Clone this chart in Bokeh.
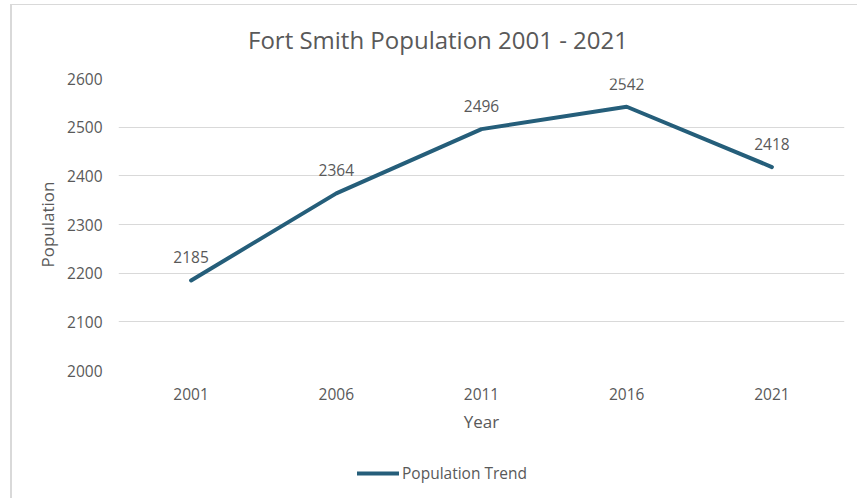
from bokeh.plotting import figure
from bokeh.models import ColumnDataSource, LabelSet, Legend, LegendItem, Range1d, Label
from bokeh.layouts import column
from bokeh.core.properties import value
from bokeh.embed import file_html
from bokeh.resources import INLINE

years = ["2001", "2006", "2011", "2016", "2021"]
population = [2185, 2364, 2496, 2542, 2418]
y_ticks = [2000, 2100, 2200, 2300, 2400, 2500, 2600]
series_name = "Population Trend"
chart_title = "Fort Smith Population 2001 - 2021"

TEXT = "#595959"
LINE = "#255E7A"
FONT = "Open Sans"
W = 845


def strip(h, xr, yr):
    f = figure(width=W, height=h, output_backend="svg", toolbar_location=None,
               x_range=xr, y_range=yr,
               min_border_left=0, min_border_right=0, min_border_top=0, min_border_bottom=0)
    f.axis.visible = False
    f.grid.visible = False
    f.outline_line_color = None
    f.background_fill_color = "white"
    f.border_fill_color = "white"
    return f


src = ColumnDataSource(dict(x=years, y=population, lbl=[str(v) for v in population]))

# title strip (frame aligned with the chart frame; ranges in pixels)
pt = strip(60, Range1d(0, 726), Range1d(0, 60))
pt.add_layout(Label(x=319.5, y=26, text=chart_title, text_align="center", text_baseline="middle",
                    text_font=FONT, text_font_size="24px", text_color=TEXT))

p = figure(
    x_range=years, y_range=Range1d(2000, 2600),
    width=W, height=385, output_backend="svg", toolbar_location=None,
    min_border_left=106, min_border_right=13, min_border_top=13, min_border_bottom=80,
)
p.outline_line_color = None
p.background_fill_color = "white"
p.border_fill_color = "white"

p.xgrid.grid_line_color = None
p.ygrid.grid_line_color = "#d9d9d9"
p.ygrid.grid_line_width = 1
p.yaxis.ticker = y_ticks

for ax in (p.xaxis, p.yaxis):
    ax.axis_line_color = None
    ax.major_tick_line_color = None
    ax.minor_tick_line_color = None
    ax.major_tick_out = 0
    ax.major_tick_in = 0
    ax.major_label_text_font = FONT
    ax.major_label_text_font_size = "15.5px"
    ax.major_label_text_color = TEXT
    ax.axis_label_text_font = FONT
    ax.axis_label_text_font_size = "17px"
    ax.axis_label_text_font_style = "normal"
    ax.axis_label_text_color = TEXT

p.xaxis.axis_label = "Year"
p.yaxis.axis_label = "Population"
p.yaxis.major_label_standoff = 16
p.xaxis.major_label_standoff = 17
p.xaxis.axis_label_standoff = 7
p.yaxis.axis_label_standoff = 5

p.line("x", "y", source=src, line_color=LINE, line_width=4, line_cap="round", line_join="round")

labels = LabelSet(x="x", y="y", text="lbl", source=src, text_align="center",
                  text_baseline="alphabetic", y_offset=17,
                  text_font=value(FONT), text_font_size="15.5px", text_color=TEXT)
p.add_layout(labels)

# legend strip below the chart (frame aligned with the chart frame)
pl = strip(48, p.x_range, Range1d(0, 1))
# same series, outside this strip's y range, so only its legend swatch shows
lr = pl.line("x", "y", source=src, line_color=LINE, line_width=4, line_cap="round")
legend = Legend(items=[LegendItem(label=series_name, renderers=[lr])],
                location=(239, 14), orientation="horizontal",
                label_text_font=FONT, label_text_font_size="15.5px", label_text_color=TEXT,
                glyph_width=42, label_standoff=3, border_line_color=None,
                background_fill_alpha=0, padding=0, margin=0)
pl.add_layout(legend, "center")

layout = column(pt, p, pl, spacing=0)
layout.margin = (4, 0, 0, 10)
layout.styles = {"border-left": "2px solid #d9d9d9", "border-top": "1px solid #d9d9d9"}

open("out.html", "w").write(file_html(layout, INLINE))
